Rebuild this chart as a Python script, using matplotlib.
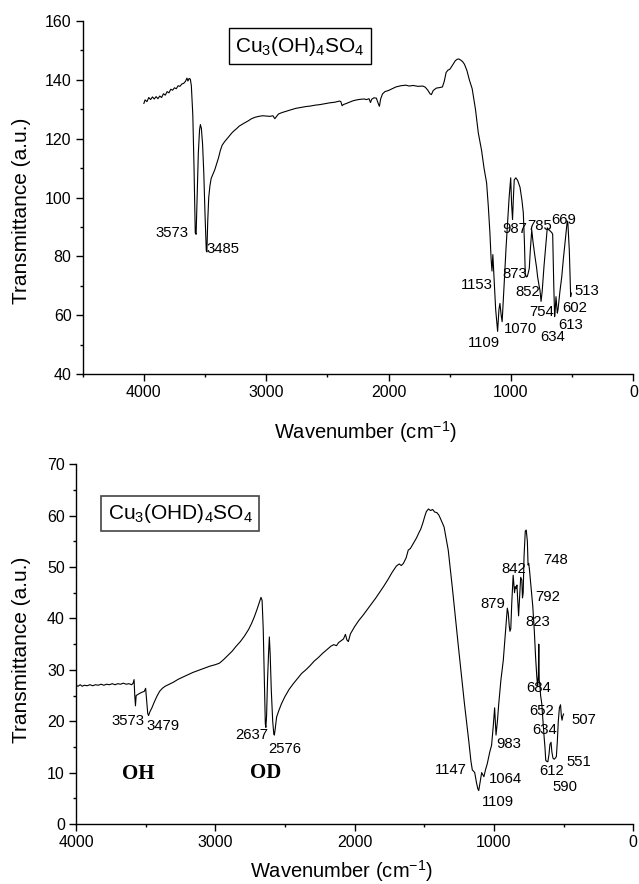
import numpy as np
import matplotlib
matplotlib.use("Agg")
import matplotlib.pyplot as plt
from matplotlib.ticker import MultipleLocator

plt.rcParams['font.family'] = ['Liberation Sans', 'DejaVu Sans']
plt.rcParams['mathtext.fontset'] = 'custom'
plt.rcParams['mathtext.rm'] = 'Liberation Sans'
plt.rcParams['mathtext.it'] = 'Liberation Sans:italic'
plt.rcParams['mathtext.default'] = 'regular'

# ---------------- data: Cu3(OH)4SO4 ----------------
wn_oh = [4000, 3990, 3975, 3960, 3945, 3930, 3915, 3900, 3885, 3870, 3855, 3840, 3825,
         3810, 3795, 3780, 3765, 3750, 3735, 3720, 3705, 3690, 3675, 3660, 3648, 3640,
         3630, 3620, 3612, 3600, 3590, 3580, 3573, 3565, 3555, 3545, 3538, 3530, 3520,
         3510, 3500, 3490, 3485, 3478, 3470, 3460, 3450, 3435, 3420, 3405, 3390, 3375,
         3360, 3340, 3320, 3300, 3280, 3260, 3240, 3220, 3200, 3180, 3150, 3120, 3090,
         3060, 3030, 3000, 2970, 2945, 2930, 2915, 2900, 2870, 2840, 2800, 2760, 2720,
         2680, 2640, 2600, 2560, 2520, 2480, 2440, 2400, 2390, 2380, 2370, 2350, 2320,
         2290, 2260, 2230, 2200, 2180, 2160, 2148, 2138, 2120, 2100, 2085, 2075, 2065,
         2050, 2030, 2000, 1970, 1940, 1900, 1860, 1830, 1800, 1760, 1720, 1700, 1680,
         1660, 1650, 1635, 1610, 1580, 1560, 1545, 1530, 1515, 1500, 1485, 1470, 1455,
         1440, 1425, 1410, 1395, 1380, 1360, 1340, 1317, 1290, 1267, 1240, 1220, 1199,
         1185, 1172, 1162, 1155, 1148, 1140, 1125, 1109, 1098, 1090, 1080, 1072, 1062,
         1055, 1040, 1030, 1015, 1002, 995, 987, 980, 973, 960, 945, 926, 910, 899, 890,
         883, 873, 866, 858, 850, 842, 830, 820, 804, 790, 782, 770, 763, 754, 745, 730,
         715, 703, 690, 676, 665, 659, 650, 643, 638, 632, 626, 621, 615, 610, 600, 585,
         572, 555, 540, 535, 528, 523, 516, 512, 507]
t_oh = [132.0, 133.2, 132.6, 134.0, 133.3, 134.2, 133.5, 134.3, 133.6, 134.5, 134.0, 135.3,
        134.8, 136.0, 135.6, 136.8, 136.5, 137.3, 137.0, 138.0, 137.8, 138.6, 138.8, 139.5,
        140.6, 139.6, 140.5, 140.2, 138.0, 128.0, 110.0, 88.0, 87.5, 100.0, 115.0, 123.0,
        124.8, 123.5, 118.0, 108.0, 94.0, 82.0, 81.5, 92.0, 100.0, 104.0, 106.5, 108.0,
        109.5, 111.5, 113.5, 116.0, 117.8, 119.0, 120.0, 121.0, 122.0, 122.8, 123.5, 124.3,
        124.8, 125.3, 126.0, 126.8, 127.3, 127.6, 127.8, 127.7, 127.6, 127.8, 126.8, 127.6,
        128.4, 128.9, 129.3, 129.8, 130.3, 130.6, 130.9, 131.1, 131.4, 131.6, 131.9, 132.2,
        132.4, 132.8, 132.6, 131.2, 131.6, 131.9, 132.4, 132.9, 133.2, 133.4, 133.5, 133.3,
        133.6, 132.3, 133.4, 133.9, 133.8, 132.0, 131.0, 133.5, 135.2, 136.0, 136.4, 137.0,
        137.6, 138.0, 138.2, 137.9, 138.1, 137.8, 137.9, 137.5, 136.5, 135.2, 135.0, 136.4,
        137.2, 137.4, 137.6, 139.5, 142.5, 143.3, 143.6, 144.5, 145.5, 146.5, 147.0, 147.1,
        146.7, 146.2, 145.3, 143.2, 140.0, 137.0, 130.0, 122.0, 116.0, 110.0, 105.0, 97.0,
        88.0, 79.0, 75.0, 80.6, 74.0, 62.0, 54.5, 62.0, 64.0, 60.0, 57.8, 66.0, 71.0, 83.0,
        90.0, 100.0, 106.7, 98.0, 92.5, 100.0, 106.0, 106.7, 105.8, 103.5, 99.0, 94.8, 85.0,
        74.0, 73.0, 73.2, 74.5, 76.0, 82.0, 89.0, 85.0, 80.0, 76.0, 73.0, 70.0, 68.5, 64.7,
        68.0, 76.6, 84.0, 89.7, 89.0, 88.5, 88.0, 87.5, 70.0, 59.5, 62.0, 66.3, 63.0, 60.7,
        62.0, 64.0, 68.0, 73.0, 79.0, 86.0, 92.0, 91.5, 86.0, 82.0, 72.0, 66.3, 67.5]

peaks_oh = ["3573", "3485", "1153", "1109", "1070", "987", "873", "785", "852", "754",
            "669", "634", "613", "602", "513"]
peaks_oh_pos = [(3767, 87.9), (3350, 82.6), (1281, 70.3), (1221, 50.7), (921, 55.3),
                (967, 89.4), (967, 74.0), (763, 90.2), (864, 68.0), (749, 61.2),
                (572, 92.2), (662, 52.5), (512, 56.5), (477, 62.6), (381, 68.3)]

# ---------------- data: Cu3(OHD)4SO4 ----------------
wn_od = [4000, 3985, 3970, 3955, 3940, 3920, 3900, 3880, 3860, 3840, 3820, 3800, 3780,
         3760, 3740, 3720, 3700, 3680, 3660, 3640, 3620, 3600, 3590, 3583, 3578, 3573,
         3568, 3550, 3530, 3510, 3500, 3494, 3485, 3479, 3470, 3455, 3440, 3420, 3400,
         3380, 3360, 3330, 3300, 3270, 3240, 3200, 3160, 3120, 3080, 3040, 3000, 2970,
         2940, 2910, 2880, 2850, 2820, 2790, 2760, 2740, 2720, 2700, 2685, 2672, 2664,
         2656, 2648, 2641, 2637, 2632, 2625, 2618, 2612, 2606, 2598, 2588, 2580, 2576,
         2570, 2560, 2545, 2525, 2500, 2470, 2440, 2410, 2380, 2350, 2320, 2290, 2260,
         2230, 2200, 2170, 2150, 2130, 2115, 2095, 2080, 2066, 2055, 2045, 2030, 2000,
         1970, 1940, 1910, 1880, 1850, 1820, 1790, 1760, 1730, 1700, 1680, 1665, 1650,
         1630, 1615, 1600, 1585, 1570, 1555, 1540, 1525, 1510, 1495, 1485, 1470, 1455,
         1440, 1425, 1410, 1395, 1380, 1358, 1328, 1299, 1255, 1212, 1180, 1165, 1155,
         1147, 1138, 1125, 1115, 1109, 1100, 1088, 1080, 1072, 1060, 1048, 1030, 1017,
         1005, 995, 990, 985, 975, 966, 950, 933, 918, 904, 897, 890, 885, 879, 872, 862,
         852, 847, 840, 835, 828, 823, 815, 808, 800, 795, 790, 784, 775, 768, 760, 755,
         750, 745, 735, 721, 710, 701, 692, 686, 681, 678, 675, 670, 665, 657, 648, 640,
         634, 628, 622, 613, 605, 598, 590, 584, 576, 568, 560, 552, 545, 538, 530, 522,
         516, 511, 506, 500]
t_od = [27.0, 26.8, 27.1, 26.8, 27.0, 26.9, 27.1, 26.9, 27.1, 27.0, 27.2, 27.0, 27.2,
        27.1, 27.3, 27.1, 27.3, 27.2, 27.4, 27.2, 27.3, 27.1, 27.4, 28.1, 25.0, 23.0,
        25.0, 25.3, 25.6, 25.8, 26.4, 24.5, 21.5, 21.1, 21.8, 22.6, 23.6, 24.8, 25.8,
        26.4, 26.8, 27.2, 27.6, 28.1, 28.5, 29.0, 29.5, 29.9, 30.3, 30.7, 31.0, 31.3,
        32.0, 32.8, 33.6, 34.6, 35.5, 36.6, 37.9, 39.0, 40.3, 41.8, 43.0, 44.1, 43.5,
        38.0, 28.0, 19.5, 18.8, 21.0, 28.0, 33.0, 36.4, 33.0, 26.0, 20.0, 17.5, 17.3,
        18.5, 20.8, 22.0, 23.4, 24.8, 26.2, 27.3, 28.3, 29.3, 30.0, 30.8, 31.7, 32.4,
        33.2, 33.9, 34.6, 34.9, 34.7, 35.3, 35.7, 36.0, 36.9, 35.8, 35.5, 37.0, 38.4,
        39.6, 40.6, 41.7, 42.8, 43.9, 45.1, 46.3, 47.6, 49.0, 50.2, 50.6, 50.3, 50.7,
        51.8, 53.3, 53.6, 54.3, 55.0, 55.7, 56.6, 57.4, 58.6, 60.0, 60.8, 61.3, 61.0,
        61.2, 60.7, 60.6, 60.1, 59.2, 57.8, 53.3, 46.1, 34.5, 23.5, 16.0, 12.2, 10.5,
        10.3, 10.0, 8.0, 6.8, 6.5, 8.0, 10.0, 9.6, 9.2, 10.6, 11.7, 14.0, 15.3,
        19.0, 22.6, 20.0, 17.3, 20.0, 23.2, 28.0, 31.8, 37.0, 42.0, 41.0, 38.5, 37.5,
        38.0, 43.0, 48.4, 45.0, 46.2, 45.8, 46.5, 43.0, 40.5, 44.5, 48.0, 47.5, 44.0,
        45.0, 52.0, 57.0, 57.2, 55.0, 50.4, 50.7, 49.5, 46.5, 42.3, 37.5, 32.5, 28.5,
        26.7, 29.0, 35.0, 28.0, 27.0, 25.0, 23.5, 20.0, 17.0, 15.0, 12.4, 12.2, 12.1,
        13.5, 15.5, 15.9, 14.0, 12.8, 12.6, 12.8, 13.1, 16.0, 20.0, 22.6, 23.2, 21.0,
        20.2, 21.0, 21.4]

peaks_od = ["3573", "3479", "2637", "2576", "1147", "1109", "1064", "983", "879", "842",
            "748", "792", "823", "684", "652", "634", "612", "590", "551", "507"]
peaks_od_pos = [(3629, 20.0), (3378, 19.1), (2736, 17.3), (2505, 14.5), (1310, 10.5),
                (973, 4.2), (920, 8.7), (893, 15.6), (1006, 42.8), (855, 49.7),
                (555, 51.3), (612, 44.2), (684, 39.4), (681, 26.5), (658, 21.9),
                (638, 18.2), (588, 10.3), (490, 7.2), (394, 12.1), (354, 20.3)]
groups_od = ["OH", "OD"]
groups_od_pos = [(3556, 9.7), (2636, 10.0)]

fig = plt.figure(figsize=(6.39, 8.84), dpi=100)
ax1 = fig.add_axes([0.1294, 0.5769, 0.8617, 0.3993])
ax2 = fig.add_axes([0.1189, 0.0679, 0.8721, 0.4069])


def style_axis(ax):
    for side in ["top", "right"]:
        ax.spines[side].set_visible(False)
    for side in ["left", "bottom"]:
        ax.spines[side].set_linewidth(1.0)
    ax.tick_params(which="major", direction="out", length=5, width=1.0, labelsize=11.5, pad=3)
    ax.tick_params(which="minor", direction="out", length=2.5, width=1.0)
    ax.xaxis.set_major_locator(MultipleLocator(1000))
    ax.xaxis.set_minor_locator(MultipleLocator(500))
    ax.set_xlabel("Wavenumber (cm$^{-1}$)", fontsize=14.5)
    ax.set_ylabel("Transmittance (a.u.)", fontsize=15)


# top panel
ax1.plot(wn_oh, t_oh, color="black", lw=0.8)
ax1.set_xlim(4500, 0)
ax1.set_ylim(40, 160)
ax1.yaxis.set_major_locator(MultipleLocator(20))
ax1.yaxis.set_minor_locator(MultipleLocator(10))
style_axis(ax1)
ax1.xaxis.set_label_coords(0.514, -0.128)
ax1.yaxis.set_label_coords(-0.094, 0.462)
for lab, (x, y) in zip(peaks_oh, peaks_oh_pos):
    ax1.text(x, y, lab, fontsize=10.7, ha="center", va="center")
ax1.text(0.395, 0.929, "Cu$_3$(OH)$_4$SO$_4$", transform=ax1.transAxes, fontsize=15,
         ha="center", va="center",
         bbox=dict(boxstyle="square,pad=0.3", fc="white", ec="black", lw=1.0))

# bottom panel
ax2.plot(wn_od, t_od, color="black", lw=0.8)
ax2.set_xlim(4000, 0)
ax2.set_ylim(0, 70)
ax2.yaxis.set_major_locator(MultipleLocator(10))
ax2.yaxis.set_minor_locator(MultipleLocator(5))
style_axis(ax2)
ax2.xaxis.set_label_coords(0.477, -0.094)
ax2.yaxis.set_label_coords(-0.081, 0.484)
for lab, (x, y) in zip(peaks_od, peaks_od_pos):
    ax2.text(x, y, lab, fontsize=10.7, ha="center", va="center")
for lab, (x, y) in zip(groups_od, groups_od_pos):
    ax2.text(x, y, lab, fontsize=15, fontweight="bold", family=["Liberation Serif"],
             ha="center", va="center")
ax2.text(0.1866, 0.863, "Cu$_3$(OHD)$_4$SO$_4$", transform=ax2.transAxes, fontsize=15,
         ha="center", va="center",
         bbox=dict(boxstyle="square,pad=0.3", fc="white", ec="#444444", lw=1.2))

fig.savefig("out.png", dpi=100)
